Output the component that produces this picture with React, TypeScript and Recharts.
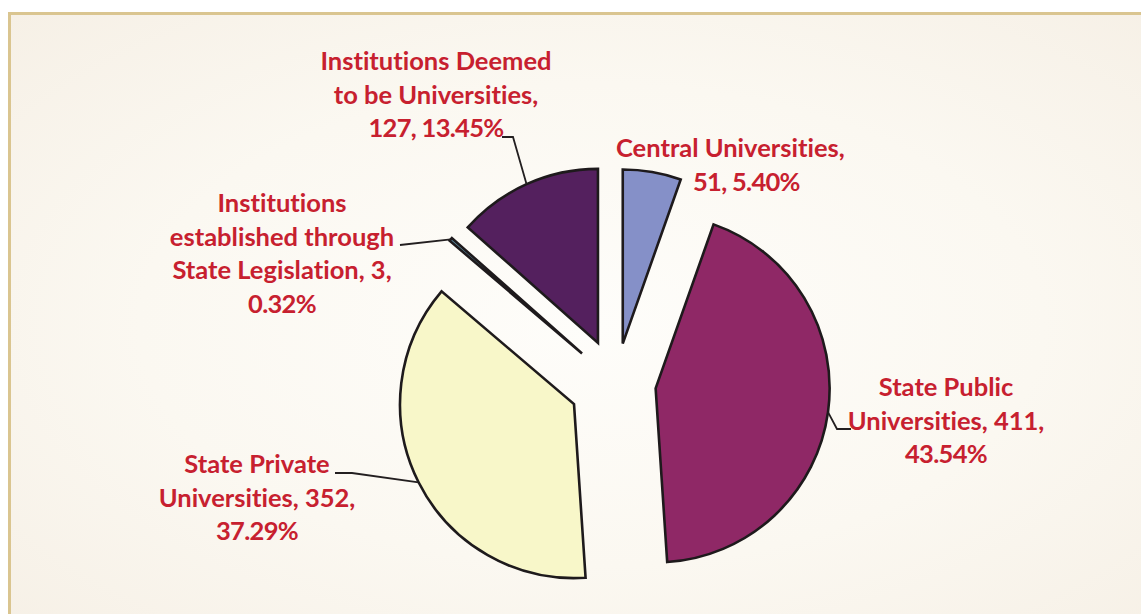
import { PieChart, Pie, Cell, Sector } from "recharts";

const categories = [
  "Central Universities",
  "State Public Universities",
  "State Private Universities",
  "Institutions established through State Legislation",
  "Institutions Deemed to be Universities",
];
const counts = [51, 411, 352, 3, 127];
const shares = ["5.40%", "43.54%", "37.29%", "0.32%", "13.45%"];
const labelText = [
  ["Central Universities,", "51, 5.40%"],
  ["State Public", "Universities, 411,", "43.54%"],
  ["State Private", "Universities, 352,", "37.29%"],
  ["Institutions", "established through", "State Legislation, 3,", "0.32%"],
  ["Institutions Deemed", "to be Universities,", "127, 13.45%"],
];

const colors = ["#8590c8", "#8f2866", "#f8f7c9", "#5b8aa0", "#54205e"];

// how far each slice is pulled out of the centre
const explode = [40, 40, 47, 45, 44];

// label placement: x per line (or centre), first baseline y, anchor, leader line points
const labelLayout: {
  x: number | number[];
  y: number;
  anchor: "middle" | "start";
  pts: [number, number][];
}[] = [
  { x: [616, 693], y: 157, anchor: "start", pts: [] },
  { x: 946, y: 396, anchor: "middle", pts: [[837, 429], [851, 429]] },
  { x: 257, y: 473, anchor: "middle", pts: [[352, 473], [335, 473]] },
  { x: 282, y: 212, anchor: "middle", pts: [[400, 245]] },
  { x: 436, y: 70, anchor: "middle", pts: [[513, 137], [502, 137]] },
];

const data = categories.map((name, i) => ({ name, value: counts[i], share: shares[i] }));

const RAD = Math.PI / 180;
const CX = 611;
const CY = 378;
const R = 174;

function shifted(cx: number, cy: number, mid: number, i: number) {
  const d = explode[i] ?? 0;
  return { x: cx + d * Math.cos(mid * RAD), y: cy - d * Math.sin(mid * RAD) };
}

function ExplodedSector(props: any) {
  const i = props.index ?? data.findIndex((d) => d.name === props.name);
  const c = shifted(props.cx, props.cy, props.midAngle, i);
  return (
    <Sector
      {...props}
      cx={c.x}
      cy={c.y}
      fill={colors[i]}
      stroke="#1e1a1c"
      strokeWidth={2.6}
      strokeLinejoin="miter"
    />
  );
}

function renderLabel(props: any) {
  const i = props.index;
  const lay = labelLayout[i];
  const c = shifted(props.cx, props.cy, props.midAngle, i);
  const ax = c.x + props.outerRadius * Math.cos(props.midAngle * RAD);
  const ay = c.y - props.outerRadius * Math.sin(props.midAngle * RAD);
  const path = lay.pts.length
    ? `M${ax},${ay}` + lay.pts.map((p) => `L${p[0]},${p[1]}`).join("")
    : null;
  const xs = Array.isArray(lay.x) ? lay.x : labelText[i].map(() => lay.x as number);
  return (
    <g key={`lbl-${i}`}>
      {path && <path d={path} fill="none" stroke="#231f20" strokeWidth={1.8} />}
      <text
        x={xs[0]}
        y={lay.y}
        textAnchor={lay.anchor}
        fill="#c7202f"
        fontFamily="Lato, 'Open Sans', sans-serif"
        fontWeight={700}
        fontSize={25.5}
        style={{ fontVariantLigatures: "none" }}
      >
        {labelText[i].map((line, k) => (
          <tspan
            key={k}
            x={xs[k]}
            y={lay.y + k * 33.5}
            letterSpacing={/^[\d.,% ]+$/.test(line) ? -0.7 : 0}
          >
            {line}
          </tspan>
        ))}
      </text>
    </g>
  );
}

export default function App() {
  return (
    <div
      style={{
        position: "absolute",
        left: 0,
        top: 0,
        width: 1141,
        height: 614,
        overflow: "hidden",
        background: "#fff",
      }}
    >
      <div
        style={{
          position: "absolute",
          left: 8,
          top: 12,
          width: 1160,
          height: 620,
          borderTop: "3px solid #dac590",
          borderLeft: "3px solid #dac590",
          background:
            "radial-gradient(ellipse at 50% 50%, #fefdfa 0%, #fbf8f1 55%, #f6f0e6 100%)",
        }}
      />
      <div style={{ position: "absolute", left: 0, top: 0 }}>
        <PieChart width={1141} height={614}>
          <Pie
            data={data}
            dataKey="value"
            nameKey="name"
            cx={CX}
            cy={CY}
            outerRadius={R}
            startAngle={90}
            endAngle={-270}
            isAnimationActive={false}
            shape={ExplodedSector}
            label={renderLabel}
            labelLine={false}
            stroke="#1e1a1c"
          >
            {data.map((d, i) => (
              <Cell key={d.name} fill={colors[i]} />
            ))}
          </Pie>
        </PieChart>
      </div>
    </div>
  );
}
